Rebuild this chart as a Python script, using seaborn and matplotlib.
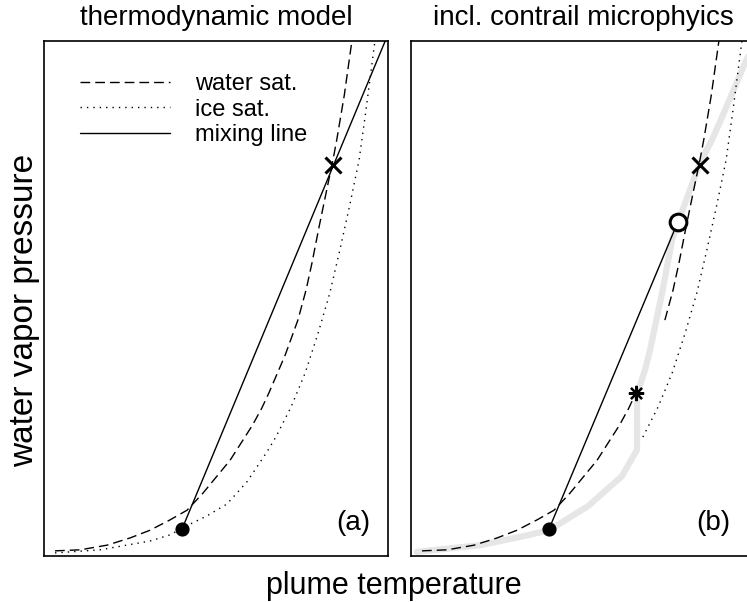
import matplotlib
matplotlib.use("Agg")
import matplotlib.pyplot as plt
import seaborn as sns

# ---- data (arbitrary units: plume temperature, water vapour pressure) ----
water_T = [3.2, 10.5, 18.3, 25.0, 30.8, 36.6, 41.6, 46.2, 54.1, 60.6, 63.3, 65.4,
           70.1, 73.8, 76.2, 77.9, 79.9, 82.0, 84.0, 85.1, 87.3, 89.5, 90.1]
water_e = [1.0, 1.2, 2.1, 3.5, 5.0, 7.0, 8.9, 12.2, 18.6, 25.4, 28.7, 31.7,
           39.0, 45.8, 51.7, 56.9, 63.7, 70.5, 76.9, 80.8, 89.5, 100.0, 103.0]

ice_T = [3.2, 16.3, 30.8, 36.6, 41.9, 47.4, 53.2, 59.0, 64.8, 67.4, 71.8, 75.9,
         79.7, 83.1, 86.0, 89.0, 91.6, 93.6, 96.2, 96.8]
ice_e = [0.6, 1.2, 2.9, 4.1, 6.0, 7.8, 10.1, 14.4, 20.2, 23.1, 28.9, 35.5,
         43.3, 51.1, 59.4, 68.5, 76.9, 86.6, 100.0, 103.0]

micro_T = [1.7, 20.1, 31.7, 40.1, 51.5, 61.3, 65.7, 65.7, 68.0, 69.5, 70.9, 73.0,
           74.4, 75.9, 78.2, 81.1, 84.0, 87.5, 90.4, 97.1, 101.5]
micro_e = [0.8, 2.1, 3.7, 5.0, 9.7, 15.5, 20.6, 31.3, 36.1, 40.0, 44.5, 51.1,
           56.1, 61.4, 65.8, 71.1, 76.3, 80.8, 85.2, 95.7, 102.1]

ambient = (40.1, 5.2)            # filled dot
sat_point = (84.0, 75.9)         # x marker
droplet_point = (77.6, 64.9)     # open circle
activation_point = (65.4, 31.7)  # asterisk
mix_end_a = (99.5, 100.5)        # mixing line continues to upper right

titles = ["thermodynamic model", "incl. contrail microphyics"]
panel_labels = ["(a)", "(b)"]
legend_labels = ["water sat.", "ice sat.", "mixing line"]

# ---- style ----
sns.set_theme(style="white")
plt.rcParams["font.family"] = ["Liberation Sans", "DejaVu Sans"]
plt.rcParams["text.color"] = "black"
plt.rcParams["axes.labelcolor"] = "black"

W, H = 747, 602
fig = plt.figure(figsize=(W / 100, H / 100), dpi=100)

def axes_at(left_px, right_px, top_px, bottom_px):
    return fig.add_axes([left_px / W, 1 - bottom_px / H,
                         (right_px - left_px) / W, (bottom_px - top_px) / H])

ax_a = axes_at(44, 388, 41, 556)
ax_b = axes_at(411, 755, 41, 556)

dash = (0, (7.0, 3.6))
dot = (0, (1.0, 3.6))
lw = 1.0

def line(ax, T, e, **kw):
    sns.lineplot(x=T, y=e, ax=ax, sort=False, estimator=None, **kw)

# panel (a)
line(ax_a, water_T, water_e, color="black", lw=lw, linestyle=dash, label=legend_labels[0])
line(ax_a, ice_T, ice_e, color="black", lw=lw, linestyle=dot, label=legend_labels[1])
line(ax_a, [ambient[0], mix_end_a[0]], [ambient[1], mix_end_a[1]],
     color="black", lw=lw, label=legend_labels[2])
ax_a.plot(*ambient, marker="o", ms=9.2, color="black", zorder=5)
ax_a.plot(*sat_point, marker="x", ms=11.5, mew=2.2, color="black", zorder=5)

# panel (b)
line(ax_b, micro_T, micro_e, color="#e6e6e6", lw=4.5)
lowT = [t for t, e in zip(water_T, water_e) if e <= activation_point[1]]
lowE = [e for e in water_e if e <= activation_point[1]]
upT = [t for t, e in zip(water_T, water_e) if e >= 45.0]
upE = [e for e in water_e if e >= 45.0]
line(ax_b, lowT, lowE, color="black", lw=lw, linestyle=dash)
line(ax_b, upT, upE, color="black", lw=lw, linestyle=dash)
iT = [t for t, e in zip(ice_T, ice_e) if e >= 23.0]
iE = [e for e in ice_e if e >= 23.0]
line(ax_b, iT, iE, color="black", lw=lw, linestyle=dot)
line(ax_b, [ambient[0], droplet_point[0]], [ambient[1], droplet_point[1]],
     color="black", lw=lw)
ax_b.plot(*ambient, marker="o", ms=9.2, color="black", zorder=5)
ax_b.plot(*sat_point, marker="x", ms=11.5, mew=2.2, color="black", zorder=5)
ax_b.plot(*droplet_point, marker="o", ms=12, mew=2.2, mfc="white",
          mec="black", zorder=5)
ax_b.plot(*activation_point, marker=(8, 2, 0), ms=11, mew=1.6, color="black", zorder=5)

for ax, title, lab, lx in zip([ax_a, ax_b], titles, panel_labels, [0.948, 0.927]):
    ax.set_xlim(0, 100)
    ax.set_ylim(0, 100)
    ax.set_xticks([])
    ax.set_yticks([])
    ax.set_xlabel("")
    ax.set_ylabel("")
    for s in ax.spines.values():
        s.set_color("black")
        s.set_linewidth(1.2)
    ax.set_title(title, fontsize=20, pad=11.5, color="black")
    ax.text(lx, 0.05, lab, transform=ax.transAxes, ha="right", va="baseline",
            fontsize=20, color="black")

leg_b = ax_b.get_legend()
if leg_b is not None:
    leg_b.remove()
handles = ax_a.get_lines()[:3]
ax_a.legend(handles=handles, labels=legend_labels, loc="upper left",
            bbox_to_anchor=(0.105, 0.937), frameon=False, fontsize=17,
            handlelength=3.8, handletextpad=1.05, labelspacing=0.14,
            borderpad=0, borderaxespad=0, labelcolor="black")

fig.text(394 / W, (H - 594) / H, "plume temperature", ha="center", va="baseline",
         fontsize=22, color="black")
fig.text(25 / W, 1 - 310 / H, "water vapor pressure", ha="center", va="center",
         rotation=90, fontsize=24, color="black")

fig.savefig("out.png", dpi=100)
